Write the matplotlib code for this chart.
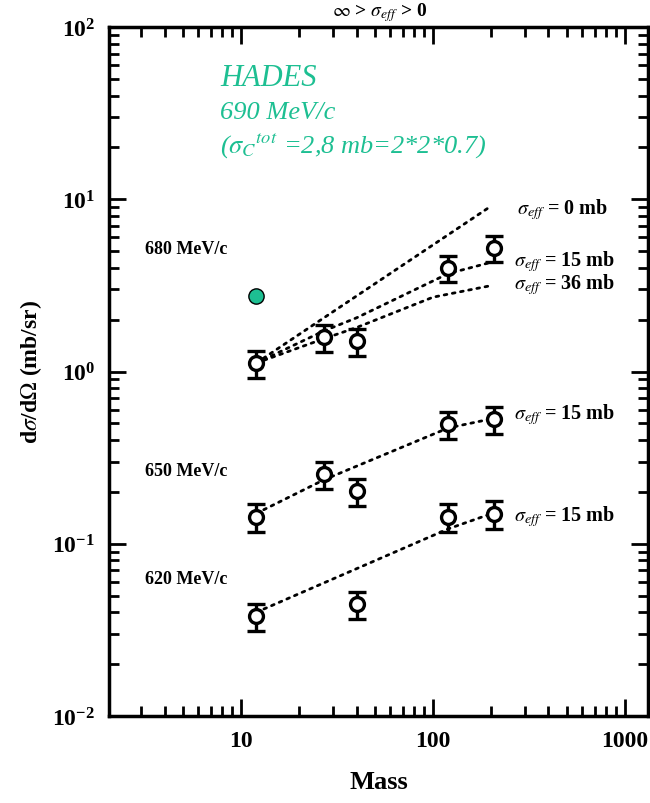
import numpy as np
import matplotlib
matplotlib.use("Agg")
import matplotlib.pyplot as plt
from matplotlib.ticker import FuncFormatter

plt.rcParams['font.family'] = ['Liberation Serif', 'DejaVu Serif']
plt.rcParams['mathtext.fontset'] = 'stix'

# nuclei masses (C, Al, Ca, Sn, Pb)
mass_680 = [12, 27, 40, 120, 208]
xs_680 = [1.12, 1.58, 1.50, 4.0, 5.2]
err_680 = [0.20, 0.28, 0.27, 0.70, 0.90]

mass_650 = [12, 27, 40, 120, 208]
xs_650 = [0.143, 0.254, 0.202, 0.496, 0.53]
err_650 = [0.026, 0.045, 0.036, 0.088, 0.095]

mass_620 = [12, 40, 120, 208]
xs_620 = [0.038, 0.0447, 0.143, 0.149]
err_620 = [0.0068, 0.008, 0.026, 0.027]

# calculated curves (dotted)
curve_680_s0_m = [12, 200]
curve_680_s0 = [1.12, 9.1]
curve_680_s15_m = [12, 27, 40, 120, 200]
curve_680_s15 = [1.12, 1.72, 2.05, 3.7, 4.3]
curve_680_s36_m = [12, 27, 40, 100, 200]
curve_680_s36 = [1.12, 1.55, 1.8, 2.7, 3.15]
curve_650_m = [12, 27, 120, 200]
curve_650 = [0.15, 0.235, 0.47, 0.53]
curve_620_m = [12, 120, 200]
curve_620 = [0.040, 0.122, 0.149]

# HADES point
hades_m = [12]
hades_xs = [2.75]

green = '#1dbf92'

fig = plt.figure(figsize=(6.5, 8.04), dpi=100)
ax = fig.add_axes([109 / 650, 1 - 717 / 804, 539 / 650, 689 / 804])
ax.set_xscale('log')
ax.set_yscale('log')
ax.set_xlim(2.05, 1320)
ax.set_ylim(1e-2, 1e2)


def px(x, y):
    return (x - 109) / 539, (717 - y) / 689


dot = dict(color='black', ls=(0, (1, 2)), lw=2.0, dash_capstyle='round')
ax.plot(curve_680_s0_m, curve_680_s0, **dot)
ax.plot(curve_680_s15_m, curve_680_s15, **dot)
ax.plot(curve_680_s36_m, curve_680_s36, **dot)
ax.plot(curve_650_m, curve_650, **dot)
ax.plot(curve_620_m, curve_620, **dot)

eb = dict(fmt='o', mfc='white', mec='black', mew=2.4, ms=10, ecolor='black',
          elinewidth=2.4, capsize=6.5, capthick=3.2, zorder=5)
ax.errorbar(mass_680, xs_680, yerr=err_680, **eb)
ax.errorbar(mass_650, xs_650, yerr=err_650, **eb)
ax.errorbar(mass_620, xs_620, yerr=err_620, **eb)

ax.plot(hades_m, hades_xs, 'o', mfc=green, mec='black', mew=1.0, ms=11, zorder=6)

# ticks
ax.xaxis.set_major_formatter(FuncFormatter(lambda v, p: f'{v:g}'))
ax.tick_params(which='both', direction='in', top=True, right=True, width=2)
ax.tick_params(which='major', length=12, labelsize=17, pad=10)
ax.tick_params(which='minor', length=7)
for lab in ax.get_xticklabels() + ax.get_yticklabels():
    lab.set_fontweight('bold')
for s in ax.spines.values():
    s.set_linewidth(2.5)

ax.set_xlabel('Mass', fontsize=19, fontweight='bold', labelpad=14)
ax.set_ylabel(r'd$\sigma$/d$\Omega$ (mb/sr)', fontsize=17, fontweight='bold', labelpad=6)

lbl = dict(transform=ax.transAxes, fontsize=13, fontweight='bold', va='center')
ax.text(*px(145, 250), '680 MeV/c', **lbl)
ax.text(*px(145, 472), '650 MeV/c', **lbl)
ax.text(*px(145, 580), '620 MeV/c', **lbl)
rl = dict(lbl, fontsize=14.5)
ax.text(*px(517, 210), r'$\sigma_{eff}$ = 0 mb', **rl)
ax.text(*px(514, 262), r'$\sigma_{eff}$ = 15 mb', **rl)
ax.text(*px(514, 285), r'$\sigma_{eff}$ = 36 mb', **rl)
ax.text(*px(514, 415), r'$\sigma_{eff}$ = 15 mb', **rl)
ax.text(*px(514, 517), r'$\sigma_{eff}$ = 15 mb', **rl)

hd = dict(transform=ax.transAxes, color=green, style='italic', va='center')
ax.text(*px(220, 78), 'HADES', fontsize=22, **hd)
ax.text(*px(220, 113), '690 MeV/c', fontsize=19, **hd)
ax.text(*px(220, 146), r'($\sigma_C$$^{tot}$ =2,8 mb=2*2*0.7)', fontsize=19, **hd)

fig.text(380 / 650, 1 - 1 / 804, r'$\infty$ > $\sigma_{eff}$ > 0', fontsize=14,
         fontweight='bold', ha='center', va='top')

fig.savefig('out.png', dpi=100)
